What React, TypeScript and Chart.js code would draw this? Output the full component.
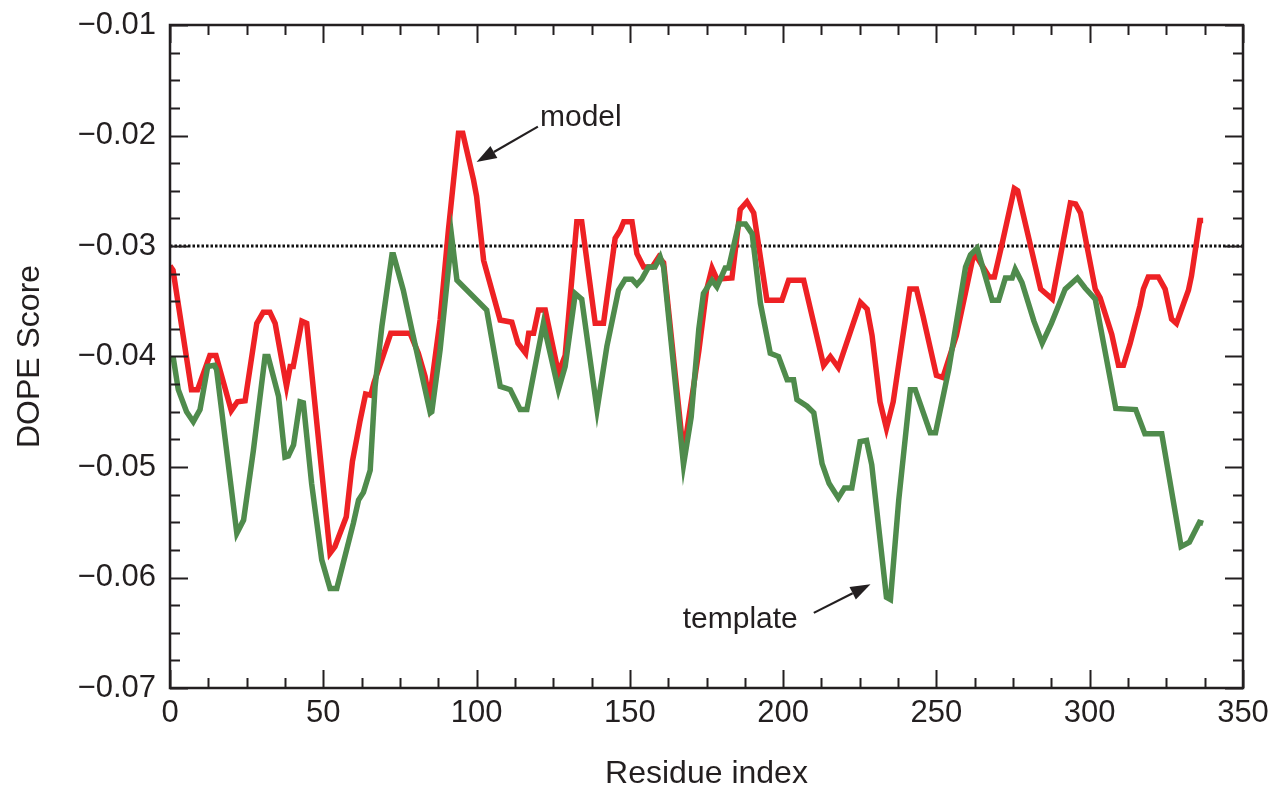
import React, { useEffect, useRef } from "react";
import { Chart, registerables } from "chart.js";

Chart.register(...registerables);

// ---- data ----
const modelX = [0, 1, 7, 9, 13, 15, 20, 22, 24.5, 28.3, 30.4, 32.6, 34.3, 38, 39.2, 40.2, 43, 44.6, 52.2, 53.8, 57.5, 59.5, 61, 62, 63.8, 65.5, 66.5, 72, 78.3, 81, 83.2, 84.6, 88.1, 90.8, 94.1, 95.5, 99, 100, 102.3, 107.7, 111.5, 113.5, 116, 117, 118.6, 120.2, 122.4, 126.7, 128.9, 132.7, 134.3, 138.7, 141.4, 145.2, 146.8, 148, 150.7, 152.3, 154.5, 157.3, 159.4, 161, 167.5, 172.5, 175, 176.8, 178.4, 183.3, 186, 188.2, 190.4, 194.7, 199.6, 201.8, 206.7, 210, 213.2, 215.4, 218, 221.9, 225.2, 227.4, 229, 231.6, 233.7, 235.9, 241.3, 243.5, 245.6, 250, 252.1, 256.5, 261.8, 263, 267.2, 268.9, 271.5, 275.4, 276.5, 284, 287.8, 293.7, 295.4, 297, 301.8, 303.4, 307.2, 309.4, 311, 313.2, 316.4, 317.5, 319.1, 322.4, 324.6, 326.7, 328.3, 332.2, 333.2, 335.9, 337];
const modelY = [-0.0318, -0.0322, -0.043, -0.043, -0.0399, -0.0399, -0.0449, -0.0441, -0.044, -0.037, -0.036, -0.036, -0.037, -0.0427, -0.0409, -0.0409, -0.0368, -0.037, -0.0578, -0.0572, -0.0545, -0.0495, -0.0473, -0.0458, -0.0434, -0.0435, -0.0424, -0.0379, -0.0379, -0.0397, -0.0418, -0.044, -0.0367, -0.0286, -0.0198, -0.0198, -0.024, -0.0255, -0.0313, -0.0367, -0.0369, -0.0388, -0.0397, -0.0379, -0.0379, -0.0358, -0.0358, -0.0415, -0.0399, -0.0278, -0.0278, -0.037, -0.037, -0.0293, -0.0286, -0.0278, -0.0278, -0.0307, -0.0319, -0.0319, -0.031, -0.0315, -0.0488, -0.0395, -0.034, -0.032, -0.033, -0.0329, -0.0267, -0.026, -0.027, -0.0349, -0.0349, -0.0331, -0.0331, -0.037, -0.0408, -0.04, -0.041, -0.0378, -0.0351, -0.0357, -0.0381, -0.0441, -0.0465, -0.0441, -0.0339, -0.0339, -0.0363, -0.0417, -0.0419, -0.0381, -0.0312, -0.0309, -0.0328, -0.0328, -0.0297, -0.0248, -0.025, -0.0339, -0.0348, -0.0261, -0.0262, -0.027, -0.0339, -0.0347, -0.038, -0.0408, -0.0408, -0.0388, -0.0354, -0.0339, -0.0328, -0.0328, -0.0339, -0.0366, -0.037, -0.034, -0.0327, -0.0277, -0.0277];

const templateX = [1, 2.7, 5.4, 7.6, 9.8, 12.3, 14.5, 15.2, 21.8, 24, 27.2, 31, 32, 35.4, 37.5, 38.6, 40.3, 42.4, 43.5, 46.2, 49.5, 52.2, 54.4, 59.8, 61.5, 63.1, 65.3, 66.9, 69.1, 72.4, 72.9, 76.1, 78.9, 84.9, 85.4, 88.1, 91.9, 93.6, 103.3, 107.7, 111, 114.2, 116.4, 121.8, 126.7, 128.9, 132.2, 134.3, 139.3, 142.5, 146.3, 148.5, 150.7, 152.3, 153.9, 156.1, 158.2, 159.9, 161, 167.5, 170, 172.5, 174, 176.8, 178.4, 181.1, 182.2, 185.5, 187.7, 189.9, 192.6, 195.8, 198.5, 201.3, 203.4, 204.5, 207.8, 210, 212.7, 215, 218, 220, 222.4, 225.1, 227.2, 228.9, 233.7, 235, 237.7, 241.5, 243.1, 248, 249.7, 254, 259.5, 261.1, 263.3, 268.2, 270.3, 272.5, 274.7, 275.7, 277.9, 281.8, 284.5, 287.5, 292, 296, 298.5, 301.8, 308.5, 315, 318, 323.5, 329.8, 332.5, 335.8, 337];
const templateY = [-0.04, -0.043, -0.045, -0.0459, -0.0448, -0.0409, -0.0408, -0.0412, -0.056, -0.0548, -0.0485, -0.04, -0.04, -0.0436, -0.0491, -0.049, -0.048, -0.0441, -0.0442, -0.0515, -0.0584, -0.061, -0.061, -0.0551, -0.053, -0.0523, -0.0503, -0.0427, -0.0373, -0.0308, -0.0308, -0.034, -0.0376, -0.0451, -0.045, -0.0394, -0.0292, -0.0331, -0.0358, -0.0427, -0.043, -0.0448, -0.0448, -0.037, -0.043, -0.0409, -0.0343, -0.0348, -0.0448, -0.0391, -0.034, -0.033, -0.033, -0.0335, -0.033, -0.0319, -0.0319, -0.031, -0.0319, -0.0498, -0.0455, -0.0375, -0.0343, -0.0331, -0.0337, -0.032, -0.032, -0.028, -0.028, -0.0289, -0.0352, -0.0397, -0.04, -0.0421, -0.0421, -0.0439, -0.0445, -0.0451, -0.0497, -0.0515, -0.0528, -0.0519, -0.0519, -0.0477, -0.0476, -0.0498, -0.0618, -0.062, -0.053, -0.043, -0.043, -0.0469, -0.0469, -0.0412, -0.0319, -0.0308, -0.0302, -0.0349, -0.0349, -0.0329, -0.0329, -0.0321, -0.0333, -0.0368, -0.0388, -0.037, -0.0339, -0.0329, -0.0338, -0.0348, -0.0447, -0.0448, -0.047, -0.047, -0.0572, -0.0568, -0.055, -0.0551];

const thresholdX = [0, 350];
const thresholdY = [-0.03, -0.03];

const xTickValues = [0, 50, 100, 150, 200, 250, 300, 350];
const yTickValues = [-0.07, -0.06, -0.05, -0.04, -0.03, -0.02, -0.01];
const minorDivisions = 4;

const annotationLabels = ["model", "template"];
const annotationTextX = [134, 186];
const annotationTextY = [-0.0184, -0.0638];
const arrowTailX = [120, 210];
const arrowTailY = [-0.0192, -0.0632];
const arrowHeadX = [100, 228.5];
const arrowHeadY = [-0.0224, -0.0606];

const INK = "#231f20";
const FONT = "'Liberation Sans', Arial, Helvetica, sans-serif";

const toPoints = (xs: number[], ys: number[]) => xs.map((x, i) => ({ x, y: ys[i] }));

const framePlugin = {
  id: "frameAndAnnotations",
  afterDatasetsDraw(chart: any) {
    const { ctx, chartArea } = chart;
    const xs = chart.scales.x;
    const ys = chart.scales.y;
    const { left, right, top, bottom } = chartArea;
    ctx.save();
    ctx.strokeStyle = INK;
    ctx.lineWidth = 2.5;
    ctx.strokeRect(left, top, right - left, bottom - top);
    ctx.lineWidth = 2;
    const major = 18;
    const minor = 10;
    const drawX = (v: number, len: number) => {
      const p = Math.round(xs.getPixelForValue(v)) + 0.5;
      ctx.beginPath();
      ctx.moveTo(p, bottom);
      ctx.lineTo(p, bottom - len);
      ctx.moveTo(p, top);
      ctx.lineTo(p, top + len);
      ctx.stroke();
    };
    const drawY = (v: number, len: number) => {
      const p = Math.round(ys.getPixelForValue(v)) + 0.5;
      ctx.beginPath();
      ctx.moveTo(left, p);
      ctx.lineTo(left + len, p);
      ctx.moveTo(right, p);
      ctx.lineTo(right - len, p);
      ctx.stroke();
    };
    xTickValues.forEach((v, i) => {
      drawX(v, major);
      if (i < xTickValues.length - 1) {
        const step = (xTickValues[i + 1] - v) / minorDivisions;
        for (let k = 1; k < minorDivisions; k++) drawX(v + k * step, minor);
      }
    });
    yTickValues.forEach((v, i) => {
      drawY(v, major);
      if (i < yTickValues.length - 1) {
        const step = (yTickValues[i + 1] - v) / minorDivisions;
        for (let k = 1; k < minorDivisions; k++) drawY(v + k * step, minor);
      }
    });
    ctx.fillStyle = INK;
    ctx.font = `30px ${FONT}`;
    ctx.textAlign = "center";
    ctx.textBaseline = "middle";
    annotationLabels.forEach((label, i) => {
      ctx.fillText(label, xs.getPixelForValue(annotationTextX[i]), ys.getPixelForValue(annotationTextY[i]));
      const x1 = xs.getPixelForValue(arrowTailX[i]);
      const y1 = ys.getPixelForValue(arrowTailY[i]);
      const x2 = xs.getPixelForValue(arrowHeadX[i]);
      const y2 = ys.getPixelForValue(arrowHeadY[i]);
      const ang = Math.atan2(y2 - y1, x2 - x1);
      const headLen = 20;
      const headW = 7;
      const bx = x2 - headLen * Math.cos(ang);
      const by = y2 - headLen * Math.sin(ang);
      ctx.strokeStyle = INK;
      ctx.lineWidth = 2.2;
      ctx.beginPath();
      ctx.moveTo(x1, y1);
      ctx.lineTo(bx, by);
      ctx.stroke();
      ctx.beginPath();
      ctx.moveTo(x2, y2);
      ctx.lineTo(bx + headW * Math.sin(ang), by - headW * Math.cos(ang));
      ctx.lineTo(bx - headW * Math.sin(ang), by + headW * Math.cos(ang));
      ctx.closePath();
      ctx.fill();
    });
    ctx.restore();
  },
};

export default function App() {
  const canvasRef = useRef<HTMLCanvasElement | null>(null);

  useEffect(() => {
    document.body.style.margin = "0";
    const canvas = canvasRef.current;
    if (!canvas) return;
    const chart = new Chart(canvas, {
      type: "line",
      data: {
        datasets: [
          {
            label: "template",
            data: toPoints(templateX, templateY),
            borderColor: "#4f8b4c",
            borderWidth: 5.5,
            pointRadius: 0,
            tension: 0,
            fill: false,
          },
          {
            label: "model",
            data: toPoints(modelX, modelY),
            borderColor: "#ee2124",
            borderWidth: 5.5,
            pointRadius: 0,
            tension: 0,
            fill: false,
          },
          {
            label: "threshold",
            data: toPoints(thresholdX, thresholdY),
            borderColor: "#111111",
            borderWidth: 3,
            borderDash: [2.5, 2],
            pointRadius: 0,
            tension: 0,
            fill: false,
          },
        ],
      },
      options: {
        animation: false,
        responsive: false,
        maintainAspectRatio: false,
        devicePixelRatio: 1,
        layout: { padding: { top: 25, right: 31, left: 0, bottom: 0 } },
        plugins: { legend: { display: false }, tooltip: { enabled: false } },
        scales: {
          x: {
            type: "linear",
            min: 0,
            max: 350,
            grid: { display: false, drawTicks: false },
            border: { display: false },
            afterBuildTicks: (scale: any) => {
              scale.ticks = xTickValues.map((v) => ({ value: v }));
            },
            afterFit: (scale: any) => {
              scale.height = 105;
              scale.paddingLeft = 0;
              scale.paddingRight = 0;
            },
            ticks: {
              autoSkip: false,
              maxRotation: 0,
              padding: 7,
              color: INK,
              font: { family: FONT, size: 31 },
              callback: (v: any) => String(Math.round(Number(v))),
            },
            title: {
              display: true,
              text: "Residue index",
              color: INK,
              font: { family: FONT, size: 32 },
              padding: { top: 0, bottom: 0 },
            },
          },
          y: {
            type: "linear",
            min: -0.07,
            max: -0.01,
            grid: { display: false, drawTicks: false },
            border: { display: false },
            afterBuildTicks: (scale: any) => {
              scale.ticks = yTickValues.map((v) => ({ value: v }));
            },
            afterFit: (scale: any) => {
              scale.width = 170;
              scale.paddingTop = 0;
              scale.paddingBottom = 0;
            },
            ticks: {
              autoSkip: false,
              padding: 14,
              color: INK,
              font: { family: FONT, size: 31 },
              callback: (v: any) => "\u2212" + Math.abs(Number(v)).toFixed(2),
            },
            title: {
              display: true,
              text: "DOPE Score",
              color: INK,
              font: { family: FONT, size: 32 },
              padding: { top: 11, bottom: 0 },
            },
          },
        },
      },
      plugins: [framePlugin],
    });
    return () => chart.destroy();
  }, []);

  return (
    <div style={{ width: 1274, height: 793, background: "#ffffff" }}>
      <canvas ref={canvasRef} width={1274} height={793} style={{ display: "block" }} />
    </div>
  );
}
